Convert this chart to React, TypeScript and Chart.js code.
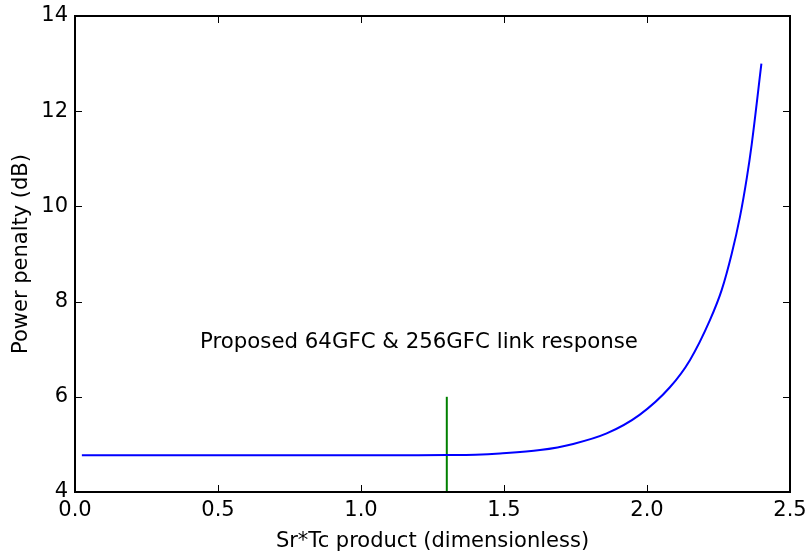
import React, { useEffect, useRef } from "react";
import { Chart, registerables } from "chart.js";

Chart.register(...registerables);

const sxValues = [0.024, 0.3, 0.6, 0.9, 1.2, 1.3, 1.4, 1.486, 1.626, 1.742, 1.859, 1.974, 2.08, 2.15, 2.22, 2.261, 2.296, 2.325, 2.349, 2.366, 2.4];
const penaltyValues = [4.77, 4.77, 4.77, 4.77, 4.77, 4.775, 4.785, 4.81, 4.88, 5.01, 5.23, 5.62, 6.2, 6.77, 7.61, 8.24, 9.0, 9.78, 10.6, 11.3, 13.0];
const markerX = [1.3, 1.3];
const markerY = [4, 6];
const xTicks = [0, 0.5, 1.0, 1.5, 2.0, 2.5];
const yTicks = [4, 6, 8, 10, 12, 14];
const annotationText = "Proposed 64GFC & 256GFC link response";
const annotationAt = { x: 0.437, y: 7.15 };

const FONT = "'DejaVu Sans', sans-serif";
const FS = 21;

const framePlugin = {
  id: "frame",
  afterDraw(chart: any) {
    const { ctx, chartArea: a, scales } = chart;
    const xs = scales.x;
    const ys = scales.y;
    ctx.save();
    ctx.strokeStyle = "#000";
    ctx.lineWidth = 1;
    const tl = 7;
    ctx.beginPath();
    xTicks.forEach((v) => {
      const px = Math.round(xs.getPixelForValue(v)) + 0.5;
      ctx.moveTo(px, a.bottom);
      ctx.lineTo(px, a.bottom - tl);
      ctx.moveTo(px, a.top);
      ctx.lineTo(px, a.top + tl);
    });
    yTicks.forEach((v) => {
      const py = Math.round(ys.getPixelForValue(v)) + 0.5;
      ctx.moveTo(a.left, py);
      ctx.lineTo(a.left + tl, py);
      ctx.moveTo(a.right, py);
      ctx.lineTo(a.right - tl, py);
    });
    ctx.stroke();
    ctx.lineWidth = 2;
    ctx.strokeRect(a.left, a.top, a.right - a.left, a.bottom - a.top);
    ctx.fillStyle = "#000";
    ctx.font = `21.3px ${FONT}`;
    ctx.textAlign = "left";
    ctx.textBaseline = "middle";
    ctx.fillText(annotationText, xs.getPixelForValue(annotationAt.x), ys.getPixelForValue(annotationAt.y));
    ctx.restore();
  },
};

export default function App() {
  const ref = useRef<HTMLCanvasElement>(null);
  useEffect(() => {
    document.body.style.margin = "0";
    const chart = new Chart(ref.current!, {
      type: "line",
      data: {
        datasets: [
          {
            data: sxValues.map((x, i) => ({ x, y: penaltyValues[i] })),
            borderColor: "#0000ff",
            borderWidth: 2,
            pointRadius: 0,
            cubicInterpolationMode: "monotone",
          },
          {
            data: markerX.map((x, i) => ({ x, y: markerY[i] })),
            borderColor: "#008000",
            borderWidth: 2,
            pointRadius: 0,
          },
        ],
      },
      options: {
        animation: false,
        responsive: false,
        layout: { padding: { top: 16, right: 17, left: 0, bottom: 0 } },
        plugins: { legend: { display: false }, tooltip: { enabled: false } },
        scales: {
          x: {
            type: "linear",
            min: 0,
            max: 2.5,
            afterFit(s: any) { s.height = 62; s.paddingLeft = 0; s.paddingRight = 0; },
            afterBuildTicks(s: any) { s.ticks = xTicks.map((v) => ({ value: v })); },
            grid: { display: false, drawTicks: false },
            border: { display: false },
            ticks: { color: "#000", font: { family: FONT, size: FS }, padding: 6, callback: (v: any) => Number(v).toFixed(1), maxRotation: 0 },
            title: { display: true, text: "Sr*Tc product (dimensionless)", color: "#000", font: { family: FONT, size: FS }, padding: { top: 0, bottom: 0 } },
          },
          y: {
            type: "linear",
            min: 4,
            max: 14,
            afterFit(s: any) { s.width = 75; s.paddingTop = 0; s.paddingBottom = 0; },
            afterBuildTicks(s: any) { s.ticks = yTicks.map((v) => ({ value: v })); },
            grid: { display: false, drawTicks: false },
            border: { display: false },
            ticks: { color: "#000", font: { family: FONT, size: FS }, padding: 7 },
            title: { display: true, text: "Power penalty (dB)", color: "#000", font: { family: FONT, size: FS }, padding: { top: 9, bottom: 0 } },
          },
        },
      },
      plugins: [framePlugin],
    } as any);
    return () => chart.destroy();
  }, []);
  return (
    <div style={{ position: "fixed", left: 0, top: 0, width: 807, height: 554, background: "#fff" }}>
      <canvas ref={ref} width={807} height={554} />
    </div>
  );
}
